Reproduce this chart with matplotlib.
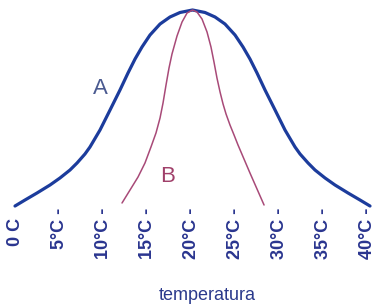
import matplotlib
matplotlib.use("Agg")
import matplotlib.pyplot as plt

# Curve A (broad): temperature (°C) vs relative activity (%)
temp_a = [0.00, 1.14, 2.50, 3.98, 5.11, 6.25, 7.05, 7.95, 8.52, 9.66, 10.80,
          11.93, 12.84, 13.64, 14.43, 15.34, 16.48, 17.61, 18.75, 20.17,
          21.59, 22.73, 23.86, 25.00, 25.91, 26.70, 27.50, 28.41, 29.55,
          30.68, 31.82, 32.39, 33.30, 34.09, 35.23, 36.36, 37.84, 39.20, 40.34]
val_a = [4.85, 7.77, 11.17, 15.05, 18.45, 22.33, 25.73, 30.10, 33.50, 41.75,
         51.46, 61.17, 69.42, 76.21, 82.04, 87.86, 93.20, 96.60, 98.79, 100.0,
         98.79, 96.60, 93.20, 87.86, 82.04, 76.21, 69.42, 61.17, 51.46,
         41.75, 33.50, 30.10, 25.73, 22.33, 18.45, 15.05, 11.17, 7.77, 4.85]

# Curve B (narrow)
temp_b = [12.16, 13.07, 13.98, 14.77, 15.45, 16.02, 16.48, 16.82, 17.16,
          17.50, 17.84, 18.41, 18.98, 19.55, 20.17, 20.68, 21.25, 21.82,
          22.27, 22.61, 22.95, 23.30, 23.64, 23.98, 24.43, 24.89, 25.34,
          26.02, 26.70, 27.50, 28.30]
val_b = [6.31, 12.62, 18.93, 25.73, 33.50, 40.29, 47.57, 54.85, 63.59,
         71.84, 78.64, 87.38, 94.17, 98.54, 100.0, 99.03, 95.63, 89.32,
         82.04, 74.76, 66.99, 60.19, 54.37, 49.51, 44.17, 39.32, 34.47,
         27.67, 20.87, 13.11, 5.34]

tick_vals = [0, 5, 10, 15, 20, 25, 30, 35, 40]
tick_labels = ["0 C  ", "5°C -", "10°C -", "15°C -", "20°C -", "25°C -",
               "30°C -", "35°C -", "40°C -"]

W, H = 373, 307
fig = plt.figure(figsize=(W / 100, H / 100), dpi=100)
ax_bottom_px = 207
ax = fig.add_axes([0, (H - ax_bottom_px) / H, 1, ax_bottom_px / H])
ax.set_xlim(-1.705, 40.68)
ax.set_ylim((216 - ax_bottom_px) / 2.06, 216 / 2.06)

col_a = "#1c3c9c"
col_b = "#a84a78"
ax.plot(temp_a, val_a, color=col_a, lw=2.3, solid_capstyle="round",
        solid_joinstyle="round", clip_on=False)
ax.plot(temp_b, val_b, color=col_b, lw=1.1, solid_capstyle="round",
        solid_joinstyle="round", clip_on=False)

ax.text(9.66, 62.1, "A", color="#4a5a90", fontsize=16, ha="center",
        va="center", family="Liberation Sans")
ax.text(17.33, 19.2, "B", color="#a0406a", fontsize=16, ha="center",
        va="center", family="Liberation Sans")

for s in ax.spines.values():
    s.set_visible(False)
ax.set_yticks([])
ax.set_xticks(tick_vals)
ax.set_xticklabels(tick_labels, rotation=90, fontsize=13, color="#2a358f",
                   family="Liberation Sans", fontweight="bold")
ax.tick_params(axis="x", length=0, pad=0.5)
ax.patch.set_visible(False)

fig.text(207 / W, 1 - 296 / H, "temperatura", ha="center", va="center",
         fontsize=13, color="#2b3a8c", family="Liberation Sans")

fig.savefig("out.png", dpi=100)
